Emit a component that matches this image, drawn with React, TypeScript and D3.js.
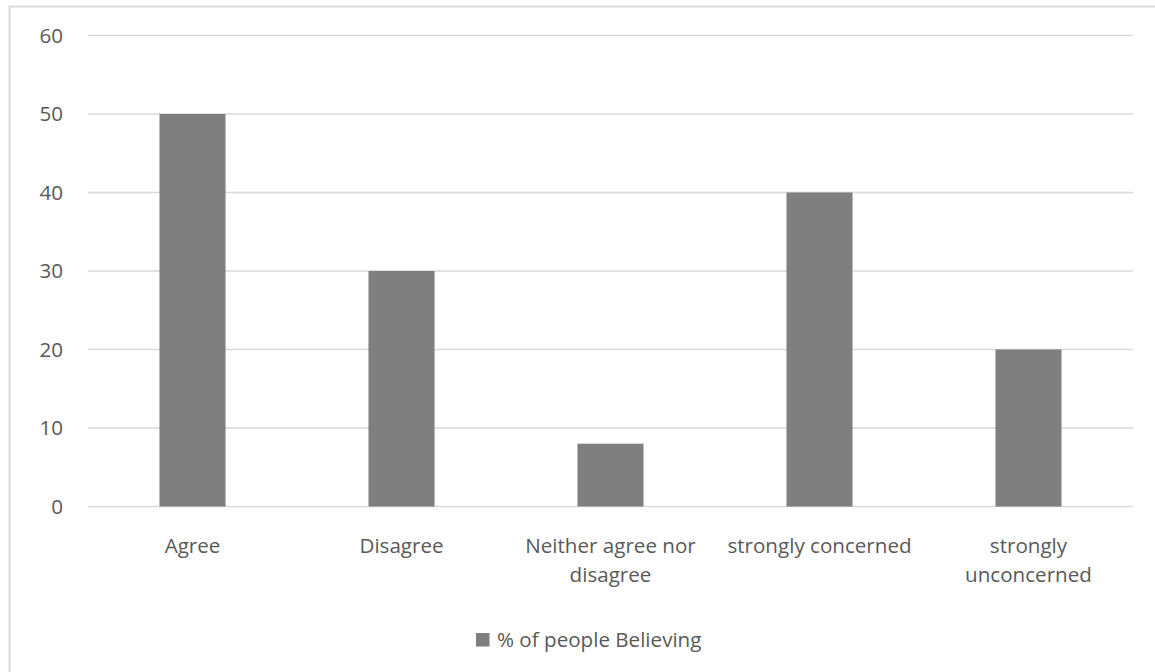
import React, { useEffect, useRef } from "react";
import * as d3 from "d3";

const categories = ["Agree", "Disagree", "Neither agree nor disagree", "strongly concerned", "strongly unconcerned"];
const categoryLines = [["Agree"], ["Disagree"], ["Neither agree nor", "disagree"], ["strongly concerned"], ["strongly", "unconcerned"]];
const values = [50, 30, 8, 40, 20];
const yTicks = [0, 10, 20, 30, 40, 50, 60];
const seriesName = "% of people Believing";

const W = 1155;
const H = 672;
const FONT = "'Open Sans', 'Segoe UI', sans-serif";
const FS = 20.6;
const TEXT = "#595959";

export default function App() {
  const ref = useRef<SVGSVGElement>(null);
  useEffect(() => {
    const svg = d3.select(ref.current);
    svg.selectAll("*").remove();

    svg.append("rect").attr("x", 0).attr("y", 0).attr("width", W).attr("height", H).attr("fill", "#fff");
    // chart border (extends beyond the frame on right and bottom)
    svg.append("rect")
      .attr("x", 9.5).attr("y", 6.5).attr("width", W + 20).attr("height", H + 20)
      .attr("fill", "none").attr("stroke", "#d9d9d9").attr("stroke-width", 2);

    const left = 88, right = 1133, top = 35.5, bottom = 506.5;
    const x = d3.scaleBand<string>().domain(categories).range([left, right]).padding(0);
    const y = d3.scaleLinear().domain([0, 60]).range([bottom, top]);

    const g = svg.append("g");
    yTicks.forEach((t) => {
      g.append("line")
        .attr("x1", left).attr("x2", right)
        .attr("y1", y(t)).attr("y2", y(t))
        .attr("stroke", "#d9d9d9").attr("stroke-width", 1.5);
      g.append("text")
        .attr("x", 63).attr("y", y(t)).attr("dy", "0.36em")
        .attr("text-anchor", "end")
        .attr("font-family", FONT).attr("font-size", FS).attr("fill", TEXT)
        .text(String(t));
    });

    const bw = x.bandwidth() * 0.316;
    categories.forEach((c, i) => {
      const cx = (x(c) as number) + x.bandwidth() / 2;
      g.append("rect")
        .attr("x", cx - bw / 2).attr("y", y(values[i]))
        .attr("width", bw).attr("height", y(0) - y(values[i]))
        .attr("fill", "#7f7f7f");
      const t = g.append("text")
        .attr("text-anchor", "middle")
        .attr("font-family", FONT).attr("font-size", FS).attr("fill", TEXT);
      categoryLines[i].forEach((ln, j) => {
        t.append("tspan").attr("x", cx).attr("y", 553 + j * 29).text(ln);
      });
    });

    // legend
    g.append("rect").attr("x", 476).attr("y", 633).attr("width", 13.5).attr("height", 13.5).attr("fill", "#7f7f7f");
    g.append("text")
      .attr("x", 497).attr("y", 647)
      .attr("font-family", FONT).attr("font-size", FS).attr("fill", TEXT)
      .text(seriesName);
  }, []);

  return (
    <svg ref={ref} width={W} height={H} style={{ position: "absolute", left: 0, top: 0 }} />
  );
}
